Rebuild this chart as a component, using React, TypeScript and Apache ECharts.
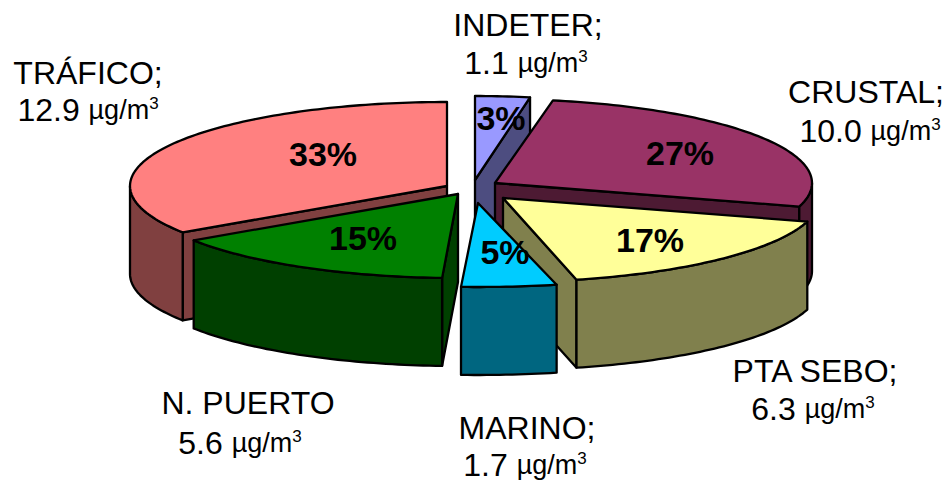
import React, { useEffect, useRef } from "react";
import * as echarts from "echarts";

// Data, in clockwise order from 12 o'clock
const categories = ["INDETER;", "CRUSTAL;", "PTA SEBO;", "MARINO;", "N. PUERTO", "TRÁFICO;"];
const values = [1.1, 10.0, 6.3, 1.7, 5.6, 12.9];
const valueLabels = ["1.1", "10.0", "6.3", "1.7", "5.6", "12.9"];
const percentLabels = ["3%", "27%", "17%", "5%", "15%", "33%"];
const unit = "µg/m";
const unitPower = "3";

// Styles
const topColors = ["#9999FF", "#993366", "#FFFF99", "#00CCFF", "#008000", "#FF8080"];
const wallColors = ["#4D4D80", "#4D1A33", "#80804D", "#006680", "#004000", "#804040"];
const drawOrder = [0, 1, 5, 2, 4, 3];

// Layout
const CX = 472, CY = 190, RX = 317, RY = 84, DEPTH = 88;
const explodeX = [3, 23, 31, 6, -14, -25];
const explodeY = [-10, -7, 8, 13, 4, -4];
const widthScale = [0.95, 1, 1, 1.07, 1, 1];
const nameAt = [[528, 25], [866, 92], [815, 371], [527, 428], [248, 403], [88, 73]];
const valueAt = [[526, 63], [870, 131], [813, 409], [525, 465], [240, 443], [88, 110]];
const percentAt = [[501, 118], [680, 153], [650, 240], [505, 252], [363, 238], [323, 154]];

const total = values.reduce((a, b) => a + b, 0);
const angleOf = (v: number) => echarts.number.linearMap(v, [0, total], [0, Math.PI * 2]);
const startValues = values.map((_, i) => values.slice(0, i).reduce((a, b) => a + b, 0));

const FONT = '"Liberation Sans", Arial, sans-serif';
const EDGE = { stroke: "#000", lineWidth: 2.3, lineJoin: "round" as const };

function renderSlice(params: any) {
  const i = drawOrder[params.dataIndex];
  const ax = CX + explodeX[i], ay = CY + explodeY[i];
  const a0 = angleOf(startValues[i]);
  const a1 = angleOf(startValues[i] + values[i]);
  const pt = (t: number): number[] => [ax + RX * widthScale[i] * Math.sin(t), ay - RY * Math.cos(t)];
  const down = (p: number[]): number[] => [p[0], p[1] + DEPTH];
  const arc = (s: number, e: number) => {
    const n = Math.max(2, Math.ceil((e - s) / 0.02));
    const out: number[][] = [];
    for (let k = 0; k <= n; k++) out.push(pt(s + ((e - s) * k) / n));
    return out;
  };
  const apex = [ax, ay];
  const wallStyle = { fill: wallColors[i], ...EDGE };
  const children: any[] = [];
  const radial = (t: number) =>
    children.push({
      type: "polygon",
      shape: { points: [apex, pt(t), down(pt(t)), down(apex)] },
      style: wallStyle,
    });
  if (Math.sin(a0) < -1e-6) radial(a0);
  if (Math.sin(a1) > 1e-6) radial(a1);
  const f0 = Math.max(a0, Math.PI / 2), f1 = Math.min(a1, (Math.PI * 3) / 2);
  if (f1 > f0) {
    const top = arc(f0, f1);
    children.push({
      type: "polygon",
      shape: { points: [...top, ...top.map(down).reverse()] },
      style: wallStyle,
    });
  }
  children.push({
    type: "polygon",
    shape: { points: [apex, ...arc(a0, a1)] },
    style: { fill: topColors[i], ...EDGE },
  });
  return { type: "group", children };
}

const textEl = (text: string, at: number[], extra: any) => ({
  type: "text",
  x: at[0],
  y: at[1],
  silent: true,
  z: 10,
  style: { text, textAlign: "center", textVerticalAlign: "middle", fill: "#000", ...extra },
});

const plain = { font: `32px ${FONT}` };
const rich = {
  rich: {
    n: { fontFamily: FONT, fontSize: 32, lineHeight: 30, color: "#000" },
    u: { fontFamily: FONT, fontSize: 27, lineHeight: 30, color: "#000" },
    s: { fontFamily: FONT, fontSize: 17, lineHeight: 30, verticalAlign: "top", color: "#000" },
  },
};

export default function App() {
  const ref = useRef<HTMLDivElement>(null);
  useEffect(() => {
    const chart = echarts.init(ref.current!, undefined, { renderer: "svg" });
    chart.setOption({
      animation: false,
      backgroundColor: "#fff",
      series: [
        {
          type: "custom",
          coordinateSystem: "none",
          silent: true,
          renderItem: renderSlice,
          data: drawOrder.map((i) => [values[i]]),
        },
      ],
      graphic: {
        elements: [
          ...categories.map((c, i) => textEl(c, nameAt[i], plain)),
          ...valueLabels.map((v, i) =>
            textEl(`{n|${v} }{u|${unit}}{s|${unitPower}}`, valueAt[i], rich)
          ),
          ...percentLabels.map((p, i) =>
            textEl(p, percentAt[i], { font: `bold 34px ${FONT}` })
          ),
        ],
      },
    });
    return () => chart.dispose();
  }, []);
  return (
    <div
      ref={ref}
      style={{ position: "fixed", left: 0, top: 0, width: 950, height: 483, background: "#fff" }}
    />
  );
}
